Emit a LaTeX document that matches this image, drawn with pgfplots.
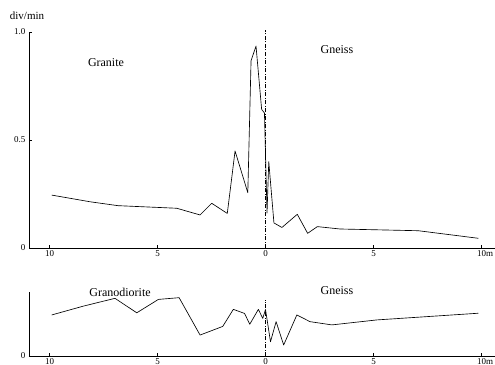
\documentclass[border=0pt]{standalone}
\usepackage{pgfplots}
\pgfplotsset{compat=1.18}
\usepackage{fontspec}
\setmainfont{Liberation Serif}

% Activity profiles across the contact (distance in m, 0 = contact)
\pgfplotstableread{
x y
-9.91 0.245
-8.13 0.214
-6.84 0.196
-4.12 0.184
-3.04 0.153
-2.50 0.207
-1.78 0.160
-1.42 0.449
-0.83 0.256
-0.68 0.867
-0.45 0.935
-0.19 0.642
-0.06 0.625
0.06 0.162
0.14 0.400
0.38 0.116
0.75 0.095
1.46 0.156
1.94 0.068
2.39 0.099
3.44 0.088
7.06 0.080
9.84 0.045
}\granitegneiss

\pgfplotstableread{
x y
-9.91 0.190
-8.44 0.231
-6.98 0.267
-5.97 0.200
-4.97 0.262
-4.01 0.270
-3.04 0.097
-1.99 0.137
-1.50 0.216
-0.98 0.197
-0.74 0.147
-0.34 0.216
-0.14 0.174
-0.01 0.215
0.22 0.066
0.48 0.159
0.83 0.051
1.44 0.190
2.05 0.159
3.06 0.144
5.14 0.167
9.84 0.198
}\granodioritegneiss

\pgfplotsset{
  profile/.style={
    x=21.6pt, y=216pt,
    xmin=-10.96, xmax=10.6,
    axis x line=bottom, axis y line=left,
    axis line style={-, line width=0.7pt, black},
    tick style={black, line width=0.6pt},
    major tick length=3pt,
    tick align=inside,
    xtick={-10,-5,0,5,10},
    xticklabels={10,5,0,5,10\makebox[0pt][l]{m}},
    xticklabel style={font=\fontsize{9}{10}\selectfont, yshift=1pt},
    yticklabel style={font=\fontsize{9}{10}\selectfont},
    /pgf/number format/assume math mode=true,
    clip=false,
  },
  curve/.style={black, line width=0.65pt, line join=round},
  contact/.style={black, line width=0.6pt,
    dash pattern=on 4pt off 1.5pt on 1pt off 1.5pt},
}

\begin{document}
\begin{tikzpicture}
% upper profile: granite / gneiss
\begin{axis}[profile,
  at={(29pt,-248pt)}, anchor=south west,
  ymin=0, ymax=1.0,
  ytick={0,0.5,1}, yticklabels={0,0.5,1.0}]
  \addplot[curve] table[x=x,y=y] {\granitegneiss};
  \addplot[contact] coordinates {(0,0) (0,1.01)};
\end{axis}

% lower profile: granodiorite / gneiss
\begin{axis}[profile,
  at={(29pt,-356pt)}, anchor=south west,
  ymin=0, ymax=0.296,
  ytick={0}, yticklabels={0}]
  \addplot[curve] table[x=x,y=y] {\granodioritegneiss};
  \addplot[contact] coordinates {(0,0) (0,0.26)};
\end{axis}

\node[font=\fontsize{11}{12}\selectfont] at (27pt,-16pt) {div/min};
\node[font=\fontsize{12}{13}\selectfont] at (106pt,-63pt) {Granite};
\node[font=\fontsize{12}{13}\selectfont] at (337pt,-50pt) {Gneiss};
\node[font=\fontsize{12}{13}\selectfont] at (120pt,-292pt) {Granodiorite};
\node[font=\fontsize{12}{13}\selectfont] at (337pt,-291pt) {Gneiss};

\pgfresetboundingbox
\path (0pt,0pt) rectangle (495pt,-364pt);
\end{tikzpicture}
\end{document}
